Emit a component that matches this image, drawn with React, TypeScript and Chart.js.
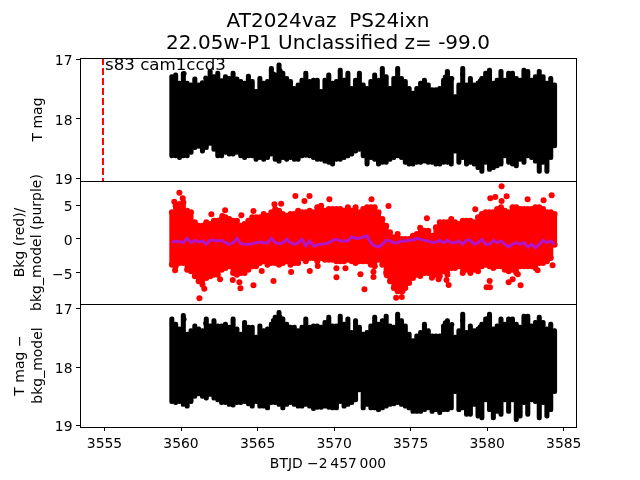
import { useEffect, useRef } from "react";
import { Chart, registerables } from "chart.js";

Chart.register(...registerables);

const times = [
  3559.4, 3559.65, 3559.9, 3560.15, 3560.4, 3560.65, 3560.9, 3561.15, 3561.4, 3561.65,
  3561.9, 3562.15, 3562.4, 3562.65, 3562.9, 3563.15, 3563.4, 3563.65, 3563.9, 3564.15,
  3564.4, 3564.65, 3564.9, 3565.15, 3565.4, 3565.65, 3565.9, 3566.15, 3566.4, 3566.65,
  3566.9, 3567.15, 3567.4, 3567.65, 3567.9, 3568.15, 3568.4, 3568.65, 3568.9, 3569.15,
  3569.4, 3569.65, 3569.9, 3570.15, 3570.4, 3570.65, 3570.9, 3571.15, 3571.4, 3571.65,
  3571.9, 3572.15, 3572.4, 3572.65, 3572.9, 3573.15, 3573.4, 3573.65, 3573.9, 3574.15,
  3574.4, 3574.65, 3574.9, 3575.15, 3575.4, 3575.65, 3575.9, 3576.15, 3576.4, 3576.65,
  3576.9, 3577.15, 3577.4, 3577.65, 3577.9, 3578.15, 3578.4, 3578.65, 3578.9, 3579.15,
  3579.4, 3579.65, 3579.9, 3580.15, 3580.4, 3580.65, 3580.9, 3581.15, 3581.4, 3581.65,
  3581.9, 3582.15, 3582.4, 3582.65, 3582.9, 3583.15, 3583.4, 3583.65, 3583.9, 3584.15,
  3584.4,
];

const magUpper = [
  17.25,17.22,17.36,17.20,17.36,17.39,17.29,17.39,17.35,17.29,17.16,17.25,17.19,17.32,17.25,17.28,17.19,17.29,17.33,17.36,17.24,17.33,17.50,17.28,17.36,17.33,17.11,17.22,17.05,17.19,17.28,17.33,17.45,17.39,
  17.31,17.19,17.33,17.31,17.31,17.50,17.31,17.22,17.36,17.33,17.14,17.31,17.19,17.45,17.31,17.19,17.39,17.45,17.33,17.22,17.31,17.11,17.25,17.45,17.28,17.11,17.28,17.33,17.45,17.53,17.45,17.36,17.31,17.39,
  17.47,17.47,17.45,17.31,17.16,17.28,17.59,17.39,17.11,17.39,17.28,17.39,17.36,17.28,17.19,17.14,17.36,17.31,17.16,17.31,17.19,17.19,17.28,17.31,17.14,17.16,17.31,17.25,17.16,17.25,17.36,17.28,17.39,
];
const magLower = [
  18.66,18.66,18.69,18.66,18.66,18.60,18.52,18.50,18.58,18.52,18.45,18.55,18.66,18.66,18.60,18.63,18.63,18.60,18.66,18.69,18.66,18.66,18.72,18.69,18.72,18.69,18.63,18.72,18.75,18.69,18.72,18.69,18.72,18.72,
  18.66,18.65,18.66,18.69,18.72,18.72,18.75,18.77,18.80,18.72,18.72,18.69,18.66,18.63,18.58,18.55,18.66,18.80,18.69,18.72,18.80,18.77,18.77,18.72,18.69,18.66,18.69,18.77,18.80,18.80,18.77,18.77,18.75,18.77,
  18.77,18.80,18.80,18.77,18.77,18.80,18.58,18.77,18.69,18.80,18.77,18.80,18.86,18.92,18.77,18.89,18.86,18.83,18.80,18.66,18.77,18.80,18.83,18.72,18.77,18.66,18.69,18.75,18.92,18.77,18.92,18.69,18.49,
];
const magSpotsX = [3559.5, 3560.2, 3561.61, 3566.03, 3566.47, 3577.26, 3577.69, 3578.39, 3579.54, 3580.02];
const magSpotsY = [17.53, 17.23, 17.31, 17.24, 17.18, 17.29, 17.32, 17.25, 17.36, 17.23];

const bkgUpper = [
  3.92,4.90,5.15,5.39,4.17,3.92,2.45,1.96,1.96,2.45,2.21,2.70,2.70,2.94,3.19,2.94,2.70,2.70,1.96,2.21,2.70,3.19,3.19,3.19,3.68,3.43,3.92,4.41,4.17,3.68,3.43,3.68,3.68,4.17,
  3.92,3.92,4.17,3.92,4.66,4.90,4.17,4.41,4.41,4.41,4.41,4.17,4.66,4.17,4.66,3.92,4.41,4.66,4.66,4.66,3.92,2.94,1.96,0.98,0.25,0.74,0.0,0.0,0.0,0.49,0.74,1.47,1.23,1.23,
  0.49,1.72,2.45,2.45,2.45,2.94,2.45,2.21,2.70,2.70,2.70,2.45,3.19,3.68,3.92,3.92,3.92,4.41,4.66,4.17,3.92,4.66,4.66,4.41,4.41,4.41,4.41,4.66,4.66,4.41,3.92,3.92,3.68,
];
const bkgLower = [
  -3.78,-4.02,-3.53,-3.53,-4.51,-4.76,-5.49,-6.23,-6.72,-5.74,-5.49,-5.25,-5.25,-4.51,-4.27,-4.02,-5.0,-5.25,-5.0,-5.0,-4.51,-4.02,-4.02,-3.53,-3.29,-3.78,-3.53,-3.53,-3.78,-3.53,-3.29,-3.78,-3.53,-3.53,
  -2.79,-3.29,-2.79,-2.79,-3.29,-2.79,-3.04,-3.04,-3.04,-3.29,-3.29,-3.29,-3.04,-3.29,-3.53,-3.29,-3.29,-3.29,-3.78,-4.02,-3.04,-3.78,-5.0,-6.23,-7.2,-7.7,-7.7,-7.2,-6.47,-5.74,-5.25,-5.25,-5.0,-5.0,
  -5.25,-5.25,-5.49,-4.76,-5.25,-4.27,-4.27,-4.02,-5.0,-4.51,-5.0,-4.51,-4.76,-4.02,-3.78,-4.02,-4.27,-4.02,-4.02,-4.51,-4.76,-4.51,-5.0,-4.02,-4.02,-4.02,-4.02,-4.27,-3.53,-3.53,-3.29,-2.79,-0.83,
];
const bkgOutlierX = [
  3559.89,3560.11,3559.56,3562.88,3561.98,3562.70,3563.94,3564.73,3566.10,3566.54,3567.47,3561.20,3561.52,3563.88,3564.73,3566.04,3563.81,3563.38,3565.27,3559.61,3562.55,3567.19,
  3568.39,3568.06,3569.69,3572.44,3573.55,3576.06,3575.62,3571.98,3570.15,3570.15,3570.74,3571.72,3572.57,3572.57,3568.41,3568.93,3574.05,3574.47,3574.42,3573.44,3575.62,
  3580.94,3581.27,3580.53,3580.2,3584.21,3582.64,3583.68,3580.94,3579.22,3582.18,3581.66,3581.4,3579.96,3580.18,3580.16,3577.48,3577.34,3576.82,3576.39,3582.0,3583.29,3584.27,
];
const bkgOutlierY = [
  6.81,5.98,5.49,4.22,3.63,3.38,3.48,4.12,5.10,5.20,6.32,-8.72,-7.30,-7.25,-6.81,-6.18,-6.37,-6.03,-4.71,-4.61,-5.93,-4.85,
  6.32,5.59,5.83,5.83,4.85,3.04,1.67,-7.40,-5.64,-4.31,-4.31,-5.2,-5.59,-4.8,-4.7,-3.97,-8.63,-7.65,-8.53,-5.34,-5.44,
  7.75,6.27,6.18,5.98,6.42,5.83,5.69,5.59,4.36,-6.81,-5.93,-6.37,-7.11,-7.11,-6.18,-6.76,-6.03,-5.93,-5.69,-5.2,-4.6,-3.87,
];
const bkgModel = [
  -0.54,-0.29,-0.39,-0.54,0.1,-0.54,-0.2,-0.44,-0.29,-0.78,-0.2,-0.2,-0.29,-0.2,-0.54,-0.78,-0.54,0.1,-0.69,-0.78,-0.78,-0.69,-0.54,-0.44,-0.54,-0.54,0.1,-0.54,-0.69,-0.54,-0.05,-0.54,-0.78,-0.54,
  -0.05,-1.03,-0.29,-1.03,-0.88,-0.78,-0.69,-0.54,-0.2,-0.05,-0.29,-0.29,-0.29,0.29,0.1,0.1,0.29,0.44,-0.54,-1.03,-1.18,-0.78,-0.2,-0.29,-0.54,-0.54,-0.29,-0.29,-0.2,-0.2,0.1,-0.05,-0.2,-0.29,
  -0.54,-0.44,-0.2,-0.54,-0.2,-0.54,-0.54,-0.29,-0.78,-0.2,-0.2,-0.78,-0.54,-0.05,-0.78,-0.78,-0.2,-0.54,-0.29,-0.78,-1.18,-0.78,-0.54,-0.78,-0.54,-1.18,-0.78,-1.28,-0.78,-0.2,-0.54,-0.29,-0.78,
];

const subUpper = [
  17.14,17.23,17.31,17.08,17.40,17.34,17.26,17.31,17.34,17.14,17.26,17.17,17.26,17.26,17.23,17.28,17.14,17.31,17.40,17.20,17.28,17.28,17.45,17.26,17.34,17.31,17.23,17.11,17.03,17.14,17.23,17.28,17.28,17.34,
  17.28,17.14,17.28,17.26,17.26,17.28,17.20,17.11,17.26,17.26,17.09,17.23,17.14,17.37,17.17,17.28,17.40,17.37,17.26,17.11,17.23,17.17,17.09,17.26,17.28,17.06,17.17,17.26,17.40,17.51,17.43,17.37,17.23,17.34,
  17.43,17.43,17.43,17.26,17.17,17.26,17.45,17.34,17.06,17.37,17.26,17.34,17.31,17.23,17.14,17.06,17.31,17.26,17.14,17.23,17.14,17.14,17.23,17.28,17.09,17.09,17.26,17.20,17.11,17.20,17.31,17.23,17.34,
];
const subLower = [
  18.62,18.64,18.62,18.67,18.70,18.62,18.53,18.49,18.53,18.56,18.50,18.56,18.59,18.64,18.64,18.67,18.68,18.64,18.64,18.62,18.66,18.70,18.62,18.70,18.70,18.73,18.64,18.64,18.67,18.73,18.67,18.64,18.67,18.70,
  18.70,18.67,18.70,18.74,18.72,18.72,18.70,18.72,18.73,18.73,18.62,18.70,18.67,18.64,18.59,18.42,18.73,18.67,18.73,18.73,18.76,18.73,18.70,18.67,18.66,18.64,18.67,18.70,18.73,18.79,18.79,18.79,18.76,18.73,
  18.79,18.76,18.81,18.76,18.76,18.73,18.45,18.76,18.73,18.84,18.84,18.67,18.87,18.90,18.59,18.76,18.90,18.79,18.84,18.59,18.79,18.59,18.93,18.87,18.64,18.84,18.59,18.62,18.90,18.64,18.87,18.76,18.45,
];
const subSpotsX = [3560.2, 3561.61, 3566.03, 3566.47, 3577.26, 3577.69, 3578.39, 3579.54, 3580.02];
const subSpotsY = [17.18, 17.25, 17.20, 17.14, 17.24, 17.27, 17.20, 17.31, 17.17];

const eventX = [3554.9, 3554.9];
const eventY = [16.97, 19.05];
const titleLines = ["AT2024vaz  PS24ixn", "22.05w-P1 Unclassified z= -99.0"];
const FONT = "'DejaVu Sans'";

const minus = (v: any) => String(v).replace("-", "\u2212");

const frames = {
  id: "frames",
  afterDatasetsDraw(chart: any) {
    const { ctx, chartArea, scales } = chart;
    ctx.save();
    ctx.strokeStyle = "#000";
    ctx.lineWidth = 1;
    for (const id of ["y1", "y2", "y3"]) {
      const s = scales[id];
      ctx.strokeRect(chartArea.left + 0.5, Math.round(s.top) + 0.5, chartArea.right - chartArea.left, Math.round(s.bottom - s.top));
    }
    ctx.fillStyle = "#000";
    ctx.font = `16.67px ${FONT}`;
    ctx.textBaseline = "alphabetic";
    ctx.fillText("s83 cam1ccd3", scales.x.getPixelForValue(3555) + 0.5, scales.y1.getPixelForValue(17.18));
    ctx.restore();
  },
};

function yAxis(min: number, max: number, step: number, title: string | string[], pad: number, reverse: boolean, lh: number) {
  return {
    type: "linear",
    position: "left",
    stack: "panels",
    stackWeight: 1,
    min,
    max,
    reverse,
    afterFit: (s: any) => { s.width = 80; },
    border: { display: false },
    grid: { drawOnChartArea: false, drawTicks: true, tickLength: 4, tickColor: "#000", tickWidth: 1 },
    ticks: { stepSize: step, includeBounds: false, padding: 3.5, labelOffset: 2, color: "#000", font: { size: 13.9, family: FONT }, callback: minus, maxRotation: 0 },
    title: { display: true, text: title, color: "#000", font: { size: 14, family: FONT, lineHeight: lh }, padding: { top: pad, bottom: 0 } },
  };
}

export default function App() {
  const ref = useRef<HTMLCanvasElement>(null);
  useEffect(() => {
    const band = (upper: number[], lower: number[]) => times.map((x, i) => ({ x, y: [upper[i], lower[i]] }));
    const pairs = (xs: number[], ys: number[]) => xs.map((x, i) => ({ x, y: ys[i] }));
    const bar = (data: any[], yAxisID: string, color: string, order: number, radius: number) => ({
      type: "bar", data, yAxisID, xAxisID: "x", backgroundColor: color, borderWidth: 0, barThickness: 4.4, grouped: false, borderSkipped: false, borderRadius: radius, order,
    });
    const dots = (data: any[], yAxisID: string, color: string, r: number, order: number) => ({
      type: "scatter", data, yAxisID, xAxisID: "x", backgroundColor: color, borderWidth: 0, pointRadius: r, order,
    });
    const chart = new Chart(ref.current!, {
      type: "bar",
      data: {
        datasets: [
          bar(band(magUpper, magLower), "y1", "#000", 5, 2.2),
          dots(pairs(magSpotsX, magSpotsY), "y1", "#000", 2.5, 4),
          { type: "line", data: pairs(eventX, eventY), yAxisID: "y1", xAxisID: "x", borderColor: "#ff0000", borderWidth: 2, borderDash: [7, 3], pointRadius: 0, order: 1 },
          bar(band(bkgUpper, bkgLower), "y2", "#ff0000", 5, 0),
          dots(pairs(times, bkgUpper), "y2", "#ff0000", 3, 4),
          dots(pairs(times, bkgLower), "y2", "#ff0000", 3, 4),
          dots(pairs(bkgOutlierX, bkgOutlierY), "y2", "#ff0000", 3, 4),
          { type: "line", data: pairs(times, bkgModel), yAxisID: "y2", xAxisID: "x", borderColor: "#b414c8", borderWidth: 3, pointRadius: 0, tension: 0, order: 1 },
          bar(band(subUpper, subLower), "y3", "#000", 5, 2.2),
          dots(pairs(subSpotsX, subSpotsY), "y3", "#000", 2.5, 4),
        ] as any,
      },
      options: {
        animation: false,
        responsive: false,
        layout: { padding: { right: 64, left: 0, top: 0, bottom: 0 } },
        plugins: {
          legend: { display: false },
          tooltip: { enabled: false },
          title: {
            display: true,
            fullSize: false,
            text: titleLines,
            color: "#000",
            font: { size: 20, family: FONT, weight: "normal", lineHeight: 1.1 },
            padding: { top: 11, bottom: 3 },
          },
        },
        scales: {
          x: {
            type: "linear",
            min: 3553.4,
            max: 3585.8,
            offset: false,
            afterFit: (s: any) => { s.height = 53; },
            border: { display: false },
            grid: { drawOnChartArea: false, drawTicks: true, tickLength: 4, tickColor: "#000", tickWidth: 1, offset: false },
            ticks: { stepSize: 5, includeBounds: false, padding: 5, color: "#000", font: { size: 13.9, family: FONT }, callback: (v: any) => String(v), maxRotation: 0 },
            title: { display: true, text: "BTJD \u22122\u2009457\u2009000", color: "#000", font: { size: 13.9, family: FONT }, padding: { top: 0, bottom: 7 } },
          },
          y3: yAxis(16.92, 19.02, 1, ["T mag \u2212", "bkg_model"], 11, true, 1.3) as any,
          y2: yAxis(-9.56, 8.53, 5, ["Bkg (red)/", "bkg_model (purple)"], 12, false, 1.2) as any,
          y1: yAxis(16.97, 19.05, 1, "T mag", 30, true, 1.2) as any,
        } as any,
      },
      plugins: [frames],
    } as any);
    return () => chart.destroy();
  }, []);
  return (
    <div style={{ position: "fixed", left: 0, top: 0, width: 640, height: 480, background: "#fff" }}>
      <canvas ref={ref} width={640} height={480} style={{ display: "block" }} />
    </div>
  );
}
